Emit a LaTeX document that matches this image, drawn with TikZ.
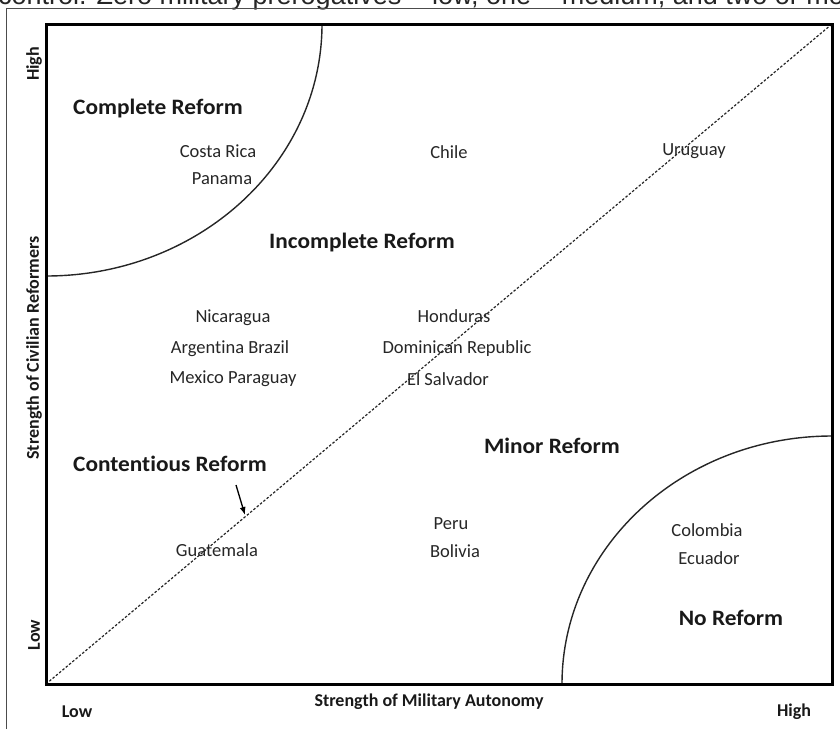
\documentclass[tikz,border=0pt]{standalone}
\usepackage{fontspec}
\setmainfont{Carlito}[Ligatures=NoCommon]
\newfontfamily\capfont{Liberation Sans}
\usetikzlibrary{arrows.meta}
\begin{document}
\begin{tikzpicture}[x=1pt,y=-1pt,
  country/.style={font=\fontsize{18.5}{18.5}\selectfont, text=black!85, inner sep=0pt},
  region/.style={font=\bfseries\fontsize{22}{22}\selectfont, text=black!90, inner sep=0pt, xscale=1.06},
  axislab/.style={font=\bfseries\fontsize{18}{18}\selectfont, text=black!90, inner sep=0pt},
  boundary/.style={line width=1.4pt, black!85},
  frame/.style={line width=3pt, black}]
\useasboundingbox (0,0) rectangle (840,729);
\begin{scope}
\clip (0,0) rectangle (840,729);
\node[anchor=base west, inner sep=0pt, font=\capfont\fontsize{27}{27}\selectfont, text=black!85] (cap) at (-2,4.5) {control. Zero military prerogatives = low, one = medium, and two or more};
\end{scope}
% outer thin frame
\draw[line width=1pt, black!70] (6,729) -- (6,8.5) -- (840,8.5);
% corners of plot
\coordinate (tl) at (46,24);
\coordinate (tr) at (832,24);
\coordinate (bl) at (46,684);
\coordinate (br) at (832,684);
% region boundaries
\draw[boundary] (322,24) .. controls (322,163.2) and (198.4,276) .. (46,276);
\draw[boundary] (562,684) .. controls (562,547) and (682.9,436) .. (832,436);
% diagonal
\draw[line width=1.2pt, dash pattern=on 2.5pt off 1.8pt, black!85] (bl) -- (tr);
% frame
\draw[frame] (tl) rectangle (br);
% arrow
\coordinate (ast) at (236,485);
\coordinate (aen) at (245,515);
\draw[line width=1.3pt, -{Latex[length=8pt,width=6pt]}] (ast) -- (aen);
% regions
\node[region] (complete) at (158,109) {Complete Reform};
\node[region] (incomplete) at (362,243) {Incomplete Reform};
\node[region] (contentious) at (170,464) {Contentious Reform};
\node[region] (minor) at (552,446) {Minor Reform};
\node[region] (noref) at (731,618) {No Reform};
% countries
\node[country] (costarica) at (218,151) {Costa Rica};
\node[country] (panama) at (222,179) {Panama};
\node[country] (chile) at (449,152) {Chile};
\node[country] (uruguay) at (694,151) {Uruguay};
\node[country] (nicaragua) at (233,318) {Nicaragua};
\node[country] (argbra) at (230,349) {Argentina Brazil};
\node[country] (mexpar) at (233,379) {Mexico Paraguay};
\node[country] (honduras) at (454,316) {Honduras};
\node[country] (domrep) at (457,349) {Dominican Republic};
\node[country] (elsal) at (448,379) {El Salvador};
\node[country] (guatemala) at (217,550) {Guatemala};
\node[country] (peru) at (451,524) {Peru};
\node[country] (bolivia) at (455,551) {Bolivia};
\node[country] (colombia) at (707,530) {Colombia};
\node[country] (ecuador) at (709,558) {Ecuador};
% axes
\node[axislab] (xlab) at (429,702) {Strength of Military Autonomy};
\node[axislab] (xlow) at (77,712) {Low};
\node[axislab] (xhigh) at (794,712) {High};
\node[axislab, rotate=90] (ylab) at (34,348) {Strength of Civilian Reformers};
\node[axislab, rotate=90] (yhigh) at (34,64) {High};
\node[axislab, rotate=90] (ylow) at (34,635) {Low};
\end{tikzpicture}
\end{document}
